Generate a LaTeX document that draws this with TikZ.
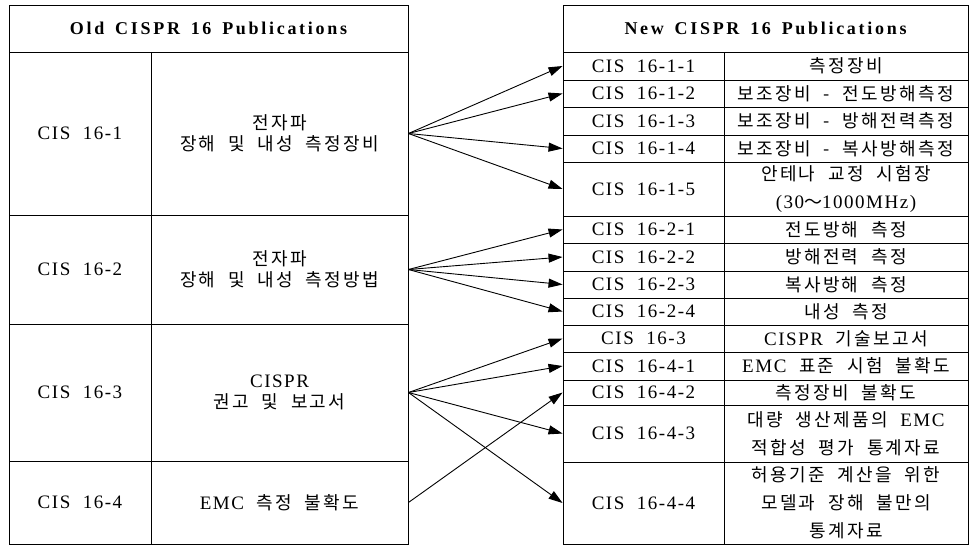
\documentclass[tikz,border=0pt]{standalone}
\usepackage{fontspec}
\setmainfont{Liberation Serif}[LetterSpace=8, WordSpace=2]
\newfontfamily\hdfont{Liberation Serif}[LetterSpace=15, WordSpace=1.5]
\newfontfamily\kr{Noto Sans CJK KR}[LetterSpace=13, WordSpace=2]
\newcommand{\hg}[1]{{\kr\fontsize{18}{21}\selectfont #1}}
\newcommand{\tightlines}{\lineskiplimit=-100pt\relax}
\usetikzlibrary{arrows.meta}

\tikzset{
  box/.style={draw, line width=0.9pt, inner sep=0pt, align=center,
    font=\fontsize{19}{21}\selectfont\tightlines},
  headbox/.style={box, minimum height=47pt, font=\hdfont\bfseries\fontsize{18}{20}\selectfont},
  oldid/.style={box, minimum width=142pt},
  oldtxt/.style={box, minimum width=257pt},
  newid/.style={box, minimum width=161pt, font=\fontsize{19}{28}\selectfont\tightlines},
  newtxt/.style={box, minimum width=244pt, font=\fontsize{19}{28}\selectfont\tightlines},
  link/.style={-{Triangle[length=14pt,width=9pt]}, line width=0.9pt}
}

\begin{document}
\begin{tikzpicture}[x=1pt,y=-1pt]
\useasboundingbox (0,0) rectangle (972,547);

% old publications
\node[headbox, minimum width=399pt] (oh) at (208.5,28.5) {Old CISPR 16 Publications};
\node[oldid, minimum height=163pt] (o1) at (80,133.5) {CIS 16-1};
\node[oldtxt, minimum height=163pt] (od1) at (279.5,133.5) {\hg{전자파}\\\hg{장해 및 내성 측정장비}};
\node[oldid, minimum height=109pt] (o2) at (80,269.5) {CIS 16-2};
\node[oldtxt, minimum height=109pt] (od2) at (279.5,269.5) {\hg{전자파}\\\hg{장해 및 내성 측정방법}};
\node[oldid, minimum height=137pt] (o3) at (80,392.5) {CIS 16-3};
\node[oldtxt, minimum height=137pt] (od3) at (279.5,392.5) {CISPR\\\hg{권고 및 보고서}};
\node[oldid, minimum height=83pt] (o4) at (80,502.5) {CIS 16-4};
\node[oldtxt, minimum height=83pt] (od4) at (279.5,502.5) {EMC \hg{측정 불확도}};

% new publications
\node[headbox, minimum width=405pt] (nh) at (765.5,28.5) {New CISPR 16 Publications};
\node[newid, minimum height=28pt] (n111) at (643.5,66) {CIS 16-1-1};
\node[newtxt, minimum height=28pt] (t111) at (846,66) {\hg{측정장비}};
\node[newid, minimum height=27pt] (n112) at (643.5,93.5) {CIS 16-1-2};
\node[newtxt, minimum height=27pt] (t112) at (846,93.5) {\hg{보조장비 - 전도방해측정}};
\node[newid, minimum height=28pt] (n113) at (643.5,121) {CIS 16-1-3};
\node[newtxt, minimum height=28pt] (t113) at (846,121) {\hg{보조장비 - 방해전력측정}};
\node[newid, minimum height=27pt] (n114) at (643.5,148.5) {CIS 16-1-4};
\node[newtxt, minimum height=27pt] (t114) at (846,148.5) {\hg{보조장비 - 복사방해측정}};
\node[newid, minimum height=54pt] (n115) at (643.5,189) {CIS 16-1-5};
\node[newtxt, minimum height=54pt] (t115) at (846,189) {\hg{안테나 교정 시험장}\\(30\hg{～}1000MHz)};
\node[newid, minimum height=27pt] (n121) at (643.5,229.5) {CIS 16-2-1};
\node[newtxt, minimum height=27pt] (t121) at (846,229.5) {\hg{전도방해 측정}};
\node[newid, minimum height=28pt] (n122) at (643.5,257) {CIS 16-2-2};
\node[newtxt, minimum height=28pt] (t122) at (846,257) {\hg{방해전력 측정}};
\node[newid, minimum height=27pt] (n123) at (643.5,284.5) {CIS 16-2-3};
\node[newtxt, minimum height=27pt] (t123) at (846,284.5) {\hg{복사방해 측정}};
\node[newid, minimum height=27pt] (n124) at (643.5,311.5) {CIS 16-2-4};
\node[newtxt, minimum height=27pt] (t124) at (846,311.5) {\hg{내성 측정}};
\node[newid, minimum height=27pt] (n13) at (643.5,338.5) {CIS 16-3};
\node[newtxt, minimum height=27pt] (t13) at (846,338.5) {CISPR \hg{기술보고서}};
\node[newid, minimum height=28pt] (n141) at (643.5,366) {CIS 16-4-1};
\node[newtxt, minimum height=28pt] (t141) at (846,366) {EMC \hg{표준 시험 불확도}};
\node[newid, minimum height=25pt] (n142) at (643.5,392.5) {CIS 16-4-2};
\node[newtxt, minimum height=25pt] (t142) at (846,392.5) {\hg{측정장비 불확도}};
\node[newid, minimum height=57pt] (n143) at (643.5,433.5) {CIS 16-4-3};
\node[newtxt, minimum height=57pt] (t143) at (846,433.5) {\hg{대량 생산제품의} EMC\\\hg{적합성 평가 통계자료}};
\node[newid, minimum height=82pt] (n144) at (643.5,503) {CIS 16-4-4};
\node[newtxt, minimum height=82pt] (t144) at (846,503) {\hg{허용기준 계산을 위한}\\\hg{모델과 장해 불만의}\\\hg{통계자료}};

% old -> new
\draw[link] (od1.east) -- (n111.west);
\draw[link] (od1.east) -- (n112.west);
\draw[link] (od1.east) -- (n114.west);
\draw[link] (od1.east) -- (n115.west);
\draw[link] (od2.east) -- (n121.west);
\draw[link] (od2.east) -- (n122.west);
\draw[link] (od2.east) -- (n123.west);
\draw[link] (od2.east) -- (n124.west);
\draw[link] (od3.east) -- (n13.west);
\draw[link] (od3.east) -- (n141.west);
\draw[link] (od3.east) -- (n143.west);
\draw[link] (od3.east) -- (n144.west);
\draw[link] (od4.east) -- (n142.west);
\end{tikzpicture}
\end{document}
